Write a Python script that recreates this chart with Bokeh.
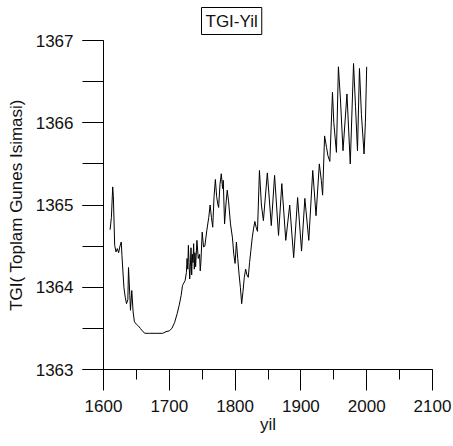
from bokeh.plotting import figure
from bokeh.models import Range1d, SingleIntervalTicker
from bokeh.embed import file_html
from bokeh.resources import INLINE

years = [1610, 1612, 1614, 1615, 1617, 1619, 1621, 1623, 1625, 1627, 1628, 1631, 1633, 1635,
         1637, 1638, 1640, 1641, 1643, 1645, 1647, 1650, 1653, 1656, 1660, 1663, 1670, 1680,
         1690, 1695, 1700, 1704, 1708, 1712, 1715, 1718, 1720, 1722, 1724, 1726, 1727, 1728,
         1729, 1730, 1731, 1732, 1733, 1734, 1735, 1736, 1737, 1738, 1739, 1740, 1742, 1744,
         1746, 1747, 1748, 1750, 1752, 1754, 1757, 1760, 1762, 1764, 1766, 1768, 1770, 1772,
         1774, 1775, 1777, 1779, 1781, 1782, 1784, 1786, 1788, 1790, 1793, 1796, 1798, 1800,
         1802, 1804, 1806, 1808, 1810, 1812, 1814, 1816, 1818, 1820, 1822, 1824, 1826, 1828,
         1830, 1832, 1834, 1837, 1840, 1843, 1849, 1855, 1860, 1866, 1871, 1877, 1883, 1889,
         1895, 1901, 1906, 1912, 1918, 1923, 1928, 1931, 1933, 1936, 1939, 1941, 1944, 1948,
         1950, 1954, 1957, 1960, 1964, 1970, 1975, 1980, 1983, 1986, 1989, 1992, 1996, 1998,
         2000]
tsi = [1364.70, 1364.85, 1365.22, 1365.10, 1364.51, 1364.43, 1364.47, 1364.42, 1364.50,
       1364.55, 1364.39, 1364.00, 1363.88, 1363.80, 1363.85, 1364.24, 1363.90, 1363.72,
       1363.96, 1363.70, 1363.58, 1363.55, 1363.53, 1363.50, 1363.46, 1363.44, 1363.44,
       1363.44, 1363.44, 1363.46, 1363.47, 1363.50, 1363.57, 1363.68, 1363.78, 1363.90,
       1364.02, 1364.05, 1364.08, 1364.18, 1364.35, 1364.22, 1364.51, 1364.30, 1364.10,
       1364.25, 1364.48, 1364.15, 1364.40, 1364.30, 1364.53, 1364.22, 1364.42, 1364.25,
       1364.57, 1364.35, 1364.40, 1364.20, 1364.30, 1364.67, 1364.49, 1364.50, 1364.69,
       1364.85, 1365.00, 1364.85, 1364.73, 1365.10, 1365.31, 1365.10, 1365.00, 1364.97,
       1365.25, 1365.38, 1365.20, 1365.30, 1364.77, 1365.00, 1365.18, 1365.05, 1364.77,
       1364.60, 1364.40, 1364.29, 1364.55, 1364.35, 1364.16, 1364.00, 1363.80, 1363.95,
       1364.12, 1364.22, 1364.15, 1364.12, 1364.30, 1364.45, 1364.60, 1364.71, 1364.80,
       1364.73, 1364.68, 1365.42, 1365.00, 1364.81, 1365.39, 1364.75, 1365.36, 1364.63,
       1365.26, 1364.57, 1365.00, 1364.36, 1365.09, 1364.44, 1365.08, 1364.57, 1365.42,
       1364.87, 1365.50, 1365.30, 1365.12, 1365.84, 1365.70, 1365.60, 1365.53, 1366.37,
       1366.00, 1365.64, 1366.68, 1366.30, 1365.66, 1366.35, 1365.50, 1366.72, 1366.20,
       1365.66, 1366.66, 1366.10, 1365.62, 1366.00, 1366.68]

title_text = "TGI-Yil"
x_label = "yil"
y_label = "TGI( Toplam Gunes Isimasi)"
x_start, x_end = 1600, 2100
y_start, y_end = 1363, 1367

FONT = "Liberation Sans"

p = figure(width=453, height=446, x_range=Range1d(x_start, x_end), y_range=Range1d(y_start, y_end),
           output_backend="svg", toolbar_location=None,
           min_border_left=103, min_border_right=21, min_border_top=40, min_border_bottom=77)
p.outline_line_color = None
p.xgrid.visible = False
p.ygrid.visible = False
p.background_fill_color = "white"
p.border_fill_color = "white"

p.line(years, tsi, line_color="black", line_width=1)

xa = p.xaxis[0]
xa.ticker = SingleIntervalTicker(interval=100, num_minor_ticks=2)
xa.major_tick_out = 21
xa.major_tick_in = 0
xa.minor_tick_out = 10
xa.minor_tick_in = 0
xa.major_label_standoff = 9
xa.axis_label = x_label
xa.axis_label_standoff = 0

ya = p.yaxis[0]
ya.ticker = SingleIntervalTicker(interval=1, num_minor_ticks=2)
ya.major_tick_out = 21
ya.major_tick_in = 0
ya.minor_tick_out = 21
ya.minor_tick_in = 0
ya.major_label_standoff = 9
ya.axis_label = y_label
ya.axis_label_standoff = 7

for ax in (xa, ya):
    ax.axis_line_color = "black"
    ax.major_tick_line_color = "black"
    ax.minor_tick_line_color = "black"
    ax.major_label_text_font = FONT
    ax.major_label_text_font_size = "17px"
    ax.major_label_text_color = "#111111"
    ax.axis_label_text_font = FONT
    ax.axis_label_text_font_size = "17px"
    ax.axis_label_text_font_style = "normal"
    ax.axis_label_text_color = "#111111"

t = p.title
t.text = title_text
t.align = "left"
t.vertical_align = "top"
t.offset = 98
t.standoff = 8
t.text_font = FONT
t.text_font_size = "17px"
t.text_font_style = "normal"
t.text_color = "#111111"
t.border_line_color = "black"
t.border_line_width = 1
t.background_fill_color = "white"
t.padding = 4

open("out.html", "w").write(file_html(p, INLINE))
